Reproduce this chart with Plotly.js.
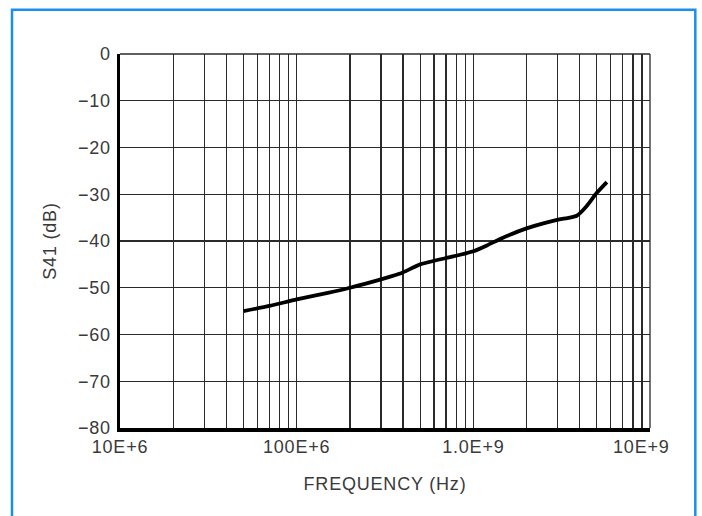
<!DOCTYPE html>
<html>
<head>
<meta charset="utf-8">
<script src="https://cdn.plot.ly/plotly-3.0.1.min.js"></script>
<style>
  html, body { margin: 0; padding: 0; background: #fff; }
  #chart { width: 702px; height: 516px; }
  #chart .xtick text, #chart .ytick text, #chart .g-xtitle text, #chart .g-ytitle text { letter-spacing: 0.8px; }
</style>
</head>
<body>
<div id="chart"></div>
<script>
// Data
const freqHz = [5.0e7, 7.0e7, 1.0e8, 1.5e8, 2.0e8, 3.0e8, 3.9e8, 5.0e8, 7.7e8, 1.0e9, 1.2e9, 1.45e9, 2.0e9, 2.9e9, 3.5e9, 3.85e9, 4.3e9, 5.0e9, 5.7e9];
const s41dB  = [-55.0, -53.9, -52.5, -51.1, -50.0, -48.2, -46.9, -45.0, -43.3, -42.2, -40.9, -39.4, -37.3, -35.6, -35.0, -34.6, -32.9, -29.7, -27.4];

// Axis ticks
const xTickVals = [1e7,2e7,3e7,4e7,5e7,6e7,7e7,8e7,9e7,
                   1e8,2e8,3e8,4e8,5e8,6e8,7e8,8e8,9e8,
                   1e9,2e9,3e9,4e9,5e9,6e9,7e9,8e9,9e9,1e10];
const xTickText = ['10E+6','','','','','','','','',
                   '100E+6','','','','','','','','',
                   '1.0E+9','','','','','','','','',
                   '10E+9\u00a0\u00a0\u00a0'];
const yTickVals = [-80,-70,-60,-50,-40,-30,-20,-10,0];
const yTickText = ['\u221280','\u221270','\u221260','\u221250','\u221240','\u221230','\u221220','\u221210','0'];

const trace = {
  x: freqHz, y: s41dB, type: 'scatter', mode: 'lines',
  line: { color: '#000', width: 3.8, shape: 'spline', smoothing: 0.6 },
  hoverinfo: 'skip'
};

const gridColor = '#2a2a2a';
const font = { family: 'Liberation Sans, Arial, sans-serif', size: 18, color: '#3a3a3a' };

const layout = {
  width: 702, height: 516,
  margin: { l: 120, r: 52, t: 54, b: 88 },
  paper_bgcolor: '#fff', plot_bgcolor: '#fff',
  showlegend: false,
  font: font,
  xaxis: {
    type: 'log', range: [7, 10],
    tickmode: 'array', tickvals: xTickVals, ticktext: xTickText,
    showgrid: true, gridcolor: gridColor, gridwidth: 1.3,
    ticks: '', tickfont: font,
    showline: true, linecolor: '#000', linewidth: 3.5,
    zeroline: false,
    title: { text: 'FREQUENCY (Hz)', font: font, standoff: 22 }
  },
  yaxis: {
    range: [-80, 0],
    tickmode: 'array', tickvals: yTickVals, ticktext: yTickText,
    showgrid: true, gridcolor: gridColor, gridwidth: 1.3,
    ticks: '', tickfont: font, ticklabelstandoff: 2,
    showline: true, linecolor: '#000', linewidth: 3.5,
    zeroline: false,
    title: { text: 'S41 (dB)', font: font, standoff: 20 }
  },
  shapes: [
    { type: 'line', xref: 'paper', yref: 'paper', x0: 1, x1: 1, y0: 0, y1: 1,
      line: { color: gridColor, width: 1.3 } },
    { type: 'line', xref: 'paper', yref: 'paper', x0: 0, x1: 1, y0: 1, y1: 1,
      line: { color: gridColor, width: 1.3 } },
    { type: 'rect', xref: 'paper', yref: 'paper',
      x0: -0.2038, x1: 1.0855, y0: -0.26, y1: 1.1185,
      line: { color: '#1a8ff0', width: 2.5 }, fillcolor: 'rgba(0,0,0,0)' }
  ],
  annotations: [
    { xref: 'paper', yref: 'paper', x: -0.165, y: 1.163, xanchor: 'left', yanchor: 'bottom',
      text: '<b>Fig</b>', showarrow: false,
      font: { family: 'Liberation Sans, Arial, sans-serif', size: 19, color: '#000' } }
  ]
};

Plotly.newPlot('chart', [trace], layout, { staticPlot: true, displayModeBar: false });
</script>
</body>
</html>
